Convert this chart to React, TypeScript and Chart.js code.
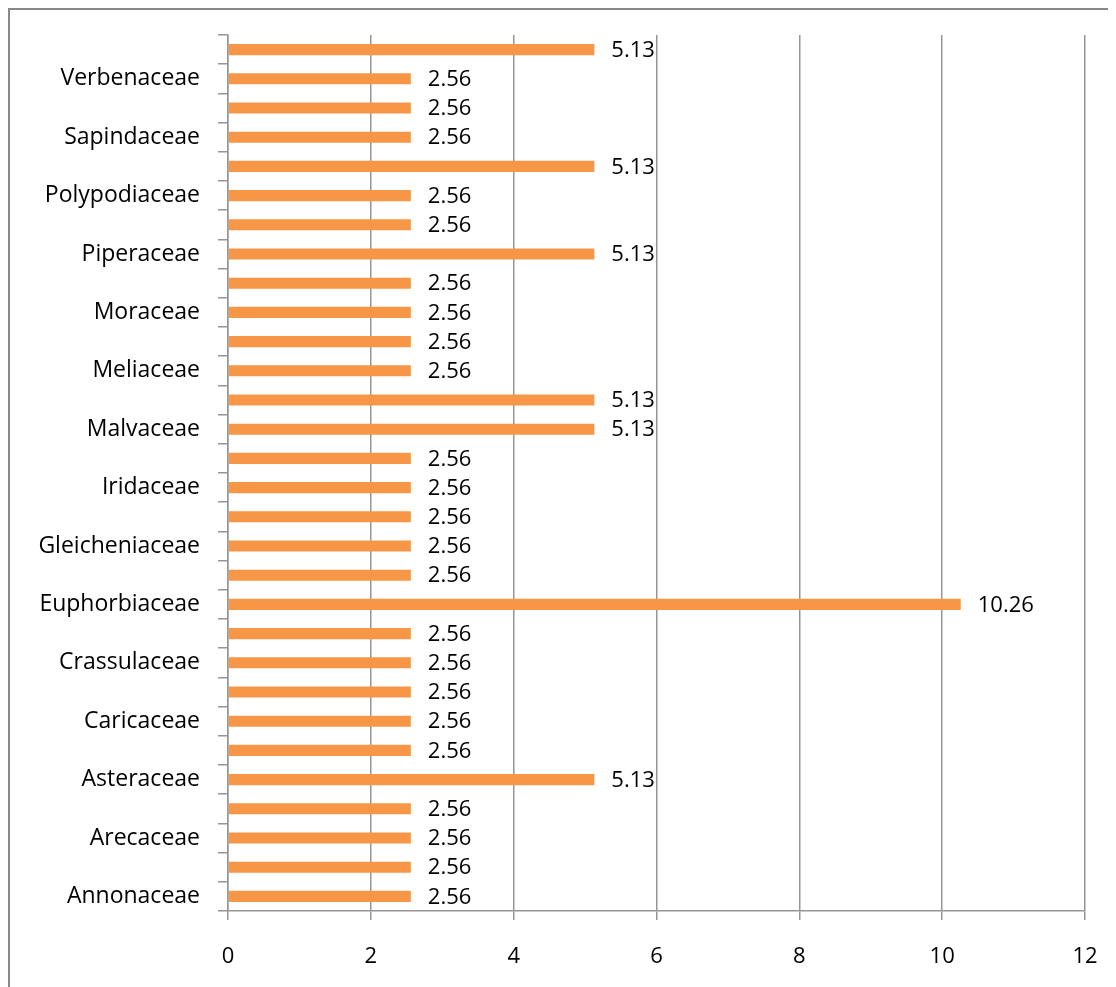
import React, { useEffect, useRef } from "react";
import { Chart, registerables } from "chart.js";

Chart.register(...registerables);

const families: string[] = [
  "Annonaceae", "Apocynaceae", "Arecaceae", "Aspleniaceae", "Asteraceae",
  "Bignoniaceae", "Caricaceae", "Commelinaceae", "Crassulaceae", "Cucurbitaceae",
  "Euphorbiaceae", "Fabaceae", "Gleicheniaceae", "Hypericaceae", "Iridaceae",
  "Lamiaceae", "Malvaceae", "Melastomataceae", "Meliaceae", "Menispermaceae",
  "Moraceae", "Myrtaceae", "Piperaceae", "Poaceae", "Polypodiaceae",
  "Rubiaceae", "Sapindaceae", "Solanaceae", "Verbenaceae", "Zingiberaceae",
];

const percentages: number[] = [
  2.56, 2.56, 2.56, 2.56, 5.13,
  2.56, 2.56, 2.56, 2.56, 2.56,
  10.26, 2.56, 2.56, 2.56, 2.56,
  2.56, 5.13, 5.13, 2.56, 2.56,
  2.56, 2.56, 5.13, 2.56, 2.56,
  5.13, 2.56, 2.56, 2.56, 5.13,
];

const xTicks: number[] = [0, 2, 4, 6, 8, 10, 12];

const FONT = "'Open Sans', sans-serif";
const GRID = "#959595";

const valueLabels = {
  id: "valueLabels",
  afterDatasetsDraw(chart: any) {
    const ctx = chart.ctx;
    const meta = chart.getDatasetMeta(0);
    ctx.save();
    ctx.font = `22px ${FONT}`;
    ctx.fillStyle = "#000";
    ctx.textAlign = "left";
    ctx.textBaseline = "middle";
    meta.data.forEach((bar: any, i: number) => {
      const v = chart.data.datasets[0].data[i] as number;
      ctx.fillText(v.toFixed(2), bar.x + 17, bar.y + 1);
    });
    ctx.restore();
  },
};

export default function App() {
  const ref = useRef<HTMLCanvasElement | null>(null);

  useEffect(() => {
    if (!ref.current) return;
    const chart = new Chart(ref.current, {
      type: "bar",
      data: {
        labels: families,
        datasets: [
          {
            data: percentages,
            backgroundColor: "#F79646",
            borderWidth: 0,
            categoryPercentage: 1,
            barPercentage: 0.38,
          },
        ],
      },
      options: {
        indexAxis: "y",
        animation: false,
        responsive: false,
        devicePixelRatio: 1,
        layout: { padding: { left: 0, top: 25, right: 31, bottom: 0 } },
        plugins: {
          legend: { display: false },
          tooltip: { enabled: false },
          title: { display: false },
        },
        scales: {
          x: {
            min: 0,
            max: 12,
            afterBuildTicks: (scale: any) => {
              scale.ticks = xTicks.map((v) => ({ value: v }));
            },
            afterFit: (scale: any) => {
              scale.height = 76;
              scale.paddingLeft = 0;
              scale.paddingRight = 0;
            },
            grid: {
              color: GRID,
              lineWidth: 1.5,
              tickLength: 9,
              drawOnChartArea: true,
            },
            border: { display: true, color: GRID, width: 1.5 },
            ticks: {
              color: "#000",
              font: { family: FONT, size: 22 },
              padding: 24,
            },
          },
          y: {
            reverse: true,
            afterFit: (scale: any) => {
              scale.width = 218;
              scale.paddingTop = 0;
              scale.paddingBottom = 0;
            },
            grid: {
              offset: true,
              drawOnChartArea: false,
              color: GRID,
              lineWidth: 1.5,
              tickLength: 10,
            },
            border: { display: true, color: GRID, width: 1.5 },
            ticks: {
              autoSkip: false,
              color: "#000",
              font: { family: FONT, size: 23 },
              padding: 18,
              callback: (_v: any, index: number) =>
                index % 2 === 0 ? families[index] : "",
            },
          },
        },
      },
      plugins: [valueLabels],
    });
    return () => chart.destroy();
  }, []);

  return (
    <div
      style={{
        width: 1120,
        height: 990,
        borderLeft: "2px solid #888",
        borderTop: "2px solid #888",
        boxSizing: "border-box",
        overflow: "hidden",
      }}
    >
      <canvas ref={ref} width={1106} height={977} style={{ display: "block" }} />
    </div>
  );
}
